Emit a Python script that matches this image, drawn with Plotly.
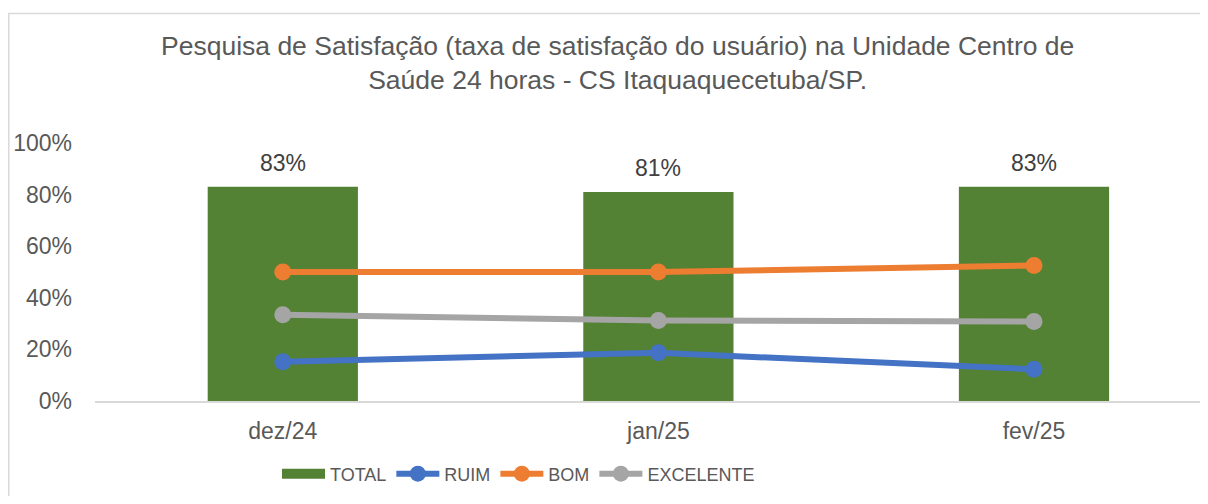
import plotly.graph_objects as go

categories = ["dez/24", "jan/25", "fev/25"]
total = [0.83, 0.81, 0.83]
ruim = [0.152, 0.187, 0.123]
bom = [0.50, 0.50, 0.525]
excelente = [0.334, 0.312, 0.308]
total_labels = ["83%", "81%", "83%"]
yticks = [0, 0.2, 0.4, 0.6, 0.8, 1.0]
yticklabels = ["0%", "20%", "40%", "60%", "80%", "100%"]

FONT = "Liberation Sans, Arial, sans-serif"
GREEN = "#548235"
BLUE = "#4472C4"
ORANGE = "#ED7D31"
GRAY = "#A5A5A5"

# page body has an 8px margin: figure coords = screen coords - 8
W, H = 1192, 488
L, T, B = 87, 135, 95
PW, PH = W - L, H - T - B

fig = go.Figure()
fig.add_trace(go.Bar(x=categories, y=total, name="TOTAL", marker_color=GREEN,
                     width=0.4, marker_line_width=0, showlegend=False, legendgroup="t"))
# legend proxy for TOTAL (wide green rectangle like the original legend key)
fig.add_trace(go.Scatter(x=[categories[0]], y=[None], name="TOTAL", mode="lines",
                         line=dict(color=GREEN, width=12), legendgroup="t"))
for name, vals, col in [("RUIM", ruim, BLUE), ("BOM", bom, ORANGE), ("EXCELENTE", excelente, GRAY)]:
    fig.add_trace(go.Scatter(x=categories, y=vals, name=name, mode="lines+markers",
                             line=dict(color=col, width=6),
                             marker=dict(color=col, size=17)))

annotations = []
for c, v, t in zip(categories, total, total_labels):
    annotations.append(dict(x=c, y=v, text=t, showarrow=False, yanchor="bottom",
                            yshift=9, font=dict(family=FONT, size=23, color="#404040")))
annotations.append(dict(
    text="Pesquisa de Satisfação (taxa de satisfação do usuário) na Unidade Centro de<br>Saúde 24 horas - CS Itaquaquecetuba/SP.",
    xref="paper", yref="paper", x=(617 - 8 - L) / PW, y=1 + (T - (63 - 8)) / PH,
    xanchor="center", yanchor="middle", showarrow=False, align="center",
    font=dict(family=FONT, size=26.5, color="#595959")))

fig.update_layout(
    width=W, height=H,
    margin=dict(l=L, r=0, t=T, b=B, pad=0),
    paper_bgcolor="white", plot_bgcolor="white",
    showlegend=True,
    legend=dict(orientation="h", x=(277 - 8 - L) / PW, y=(401 - 474) / PH,
                xanchor="left", yanchor="middle", itemwidth=43,
                font=dict(family=FONT, size=18, color="#595959"),
                traceorder="normal", bgcolor="rgba(0,0,0,0)"),
    annotations=annotations,
    shapes=[dict(type="rect", xref="paper", yref="paper",
                 x0=(0.75 - L) / PW, x1=1.2, y0=-1.0, y1=1 + (T - 5.5) / PH,
                 line=dict(color="#d9d9d9", width=1.5), fillcolor="rgba(0,0,0,0)", layer="below")],
)
fig.update_xaxes(range=[-0.5, 2.442], showline=True, linecolor="#d9d9d9", linewidth=1.5,
                 showgrid=False, zeroline=False, ticks="",
                 tickfont=dict(family=FONT, size=23, color="#595959"), ticklabelstandoff=9)
fig.update_yaxes(range=[0, 1], tickvals=yticks, ticktext=yticklabels, showline=False,
                 showgrid=False, zeroline=False, ticks="",
                 tickfont=dict(family=FONT, size=23, color="#595959"), ticklabelstandoff=22)

fig.write_html("out.html")
